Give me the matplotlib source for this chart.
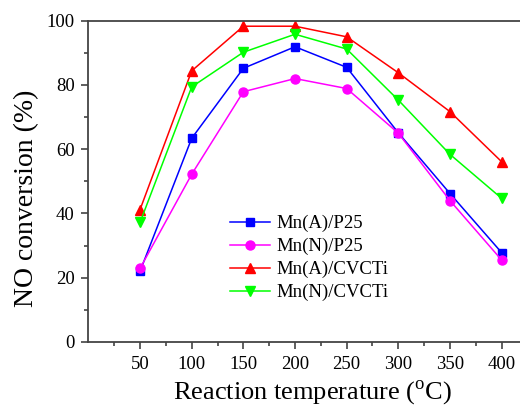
import matplotlib
matplotlib.use("Agg")
import matplotlib.pyplot as plt

temps = [50, 100, 150, 200, 250, 300, 350, 400]
mn_a_p25 = [22.0, 63.4, 85.2, 91.9, 85.5, 65.1, 46.2, 27.8]
mn_n_p25 = [22.9, 52.2, 77.9, 82.0, 78.9, 65.0, 44.0, 25.5]
mn_a_cvcti = [41.2, 84.4, 98.3, 98.3, 95.0, 83.8, 71.7, 56.1]
mn_n_cvcti = [37.2, 79.4, 90.2, 95.8, 91.2, 75.3, 58.4, 44.7]

series = [
    ("Mn(A)/P25", mn_a_p25, "#0000ff", "s", 6),
    ("Mn(N)/P25", mn_n_p25, "#ff00ff", "o", 6.5),
    ("Mn(A)/CVCTi", mn_a_cvcti, "#ff0000", "^", 7.5),
    ("Mn(N)/CVCTi", mn_n_cvcti, "#00ff00", "v", 7.5),
]

plt.rcParams["font.family"] = ["Liberation Serif", "DejaVu Serif"]
plt.rcParams["mathtext.fontset"] = "custom"
plt.rcParams["mathtext.rm"] = "Liberation Serif"

fig = plt.figure(figsize=(5.2, 4.07), dpi=100)
ax = fig.add_axes([0.17, 0.160, 0.894, 0.789])

for label, vals, color, marker, ms in series:
    ax.plot(temps, vals, color=color, marker=marker, markersize=ms,
            linewidth=1.1, label=label)

ax.set_xlim(0, 450)
ax.set_ylim(0, 100)
ax.set_xticks(temps)
ax.set_xticks(range(25, 450, 50), minor=True)
ax.set_yticks(range(0, 101, 20))
ax.set_yticks(range(10, 100, 20), minor=True)
ax.tick_params(which="major", direction="out", length=5, width=1.1,
               labelsize=13.5, colors="#333333", labelcolor="black")
ax.tick_params(axis="x", which="major", pad=5)
ax.tick_params(axis="y", which="major", pad=5)
ax.tick_params(which="minor", direction="out", length=3, width=1.1,
               colors="#333333")
for sp in ax.spines.values():
    sp.set_linewidth(1.3)
    sp.set_color("#444444")

ax.set_xlabel(r"Reaction temperature ($^{\mathrm{o}}$C)", fontsize=19)
ax.set_ylabel("NO conversion (%)", fontsize=20)
ax.xaxis.set_label_coords(0.483, -0.158)
ax.yaxis.set_label_coords(-0.132, 0.446)
ax.xaxis.label.set_va("center")
ax.yaxis.label.set_va("center")

ax.legend(loc="upper left", bbox_to_anchor=(0.305, 0.395), frameon=False,
          fontsize=13.5, handlelength=2.1, handletextpad=0.35,
          labelspacing=0.3, borderaxespad=0, borderpad=0)

fig.savefig("out.png", dpi=100)
